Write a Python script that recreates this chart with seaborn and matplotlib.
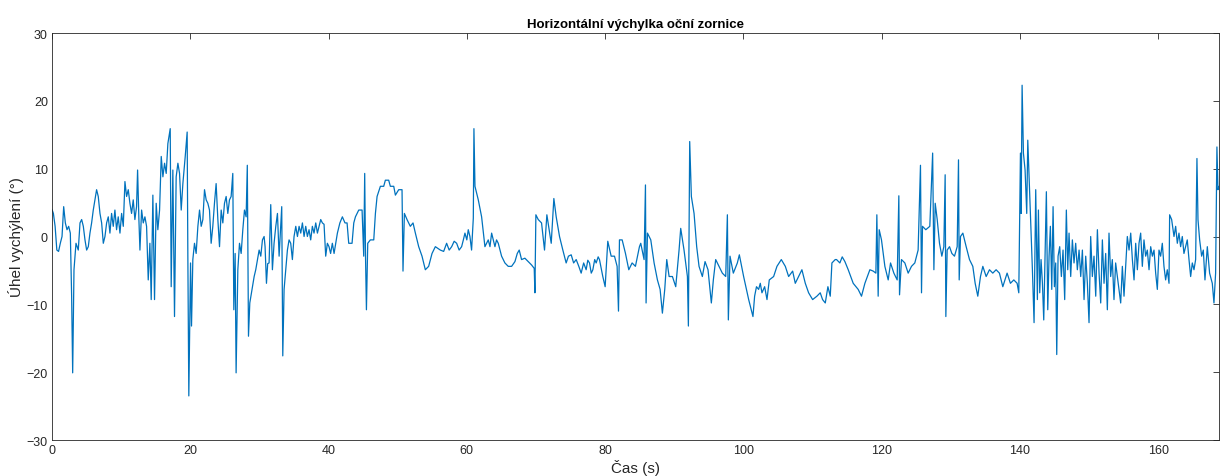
import matplotlib
matplotlib.use("Agg")
import matplotlib.pyplot as plt
import seaborn as sns
import pandas as pd

# --- data (time in s, angle in degrees) ---
t_seg1 = [0.00, 0.20, 0.45, 0.70, 0.95, 1.20, 1.45, 1.69, 1.93, 2.17, 2.41, 2.65, 2.84, 2.99, 3.18, 3.47,
          3.80, 4.05, 4.29, 4.53, 4.77, 5.01, 5.25, 5.49, 5.73, 5.97, 6.21, 6.45, 6.69, 6.94, 7.18, 7.42,
          7.66, 7.90, 8.14, 8.38, 8.62, 8.86, 9.10, 9.34, 9.58, 9.83, 10.07, 10.31, 10.55, 10.79, 11.03,
          11.27, 11.51, 11.75, 11.99, 12.23, 12.38, 12.57, 12.72, 12.96, 13.20, 13.44, 13.68, 13.92, 14.16]
v_seg1 = [4.0, 3.4, 1.5, -2.0, -2.2, -1.0, 0.0, 4.4, 2.0, 1.0, 1.5, 0.5, -8.8, -20.1, -4.9, -1.0,
          -2.0, 2.0, 2.5, 1.5, -0.5, -2.0, -1.5, 0.5, 2.0, 3.9, 5.4, 6.9, 5.9, 3.4, 2.0, -1.0,
          0.0, 2.0, 2.9, 0.5, 3.4, 1.5, 3.9, 1.0, 2.9, 0.5, 3.4, 1.5, 8.1, 5.9, 6.9,
          4.9, 3.4, 5.4, 2.5, 4.4, 9.8, 2.5, -2.0, 3.9, 2.0, 2.9, 1.5, -6.4, -1.0]

t_seg2 = [14.35, 14.59, 14.83, 15.07, 15.31, 15.56, 15.80, 16.04, 16.28, 16.52, 16.76, 17.10, 17.24, 17.48,
          17.72, 17.96, 18.21, 18.45, 18.69, 18.93, 19.27, 19.55, 19.65, 19.79, 20.04, 20.18, 20.37, 20.61,
          20.85, 21.10, 21.34, 21.58, 21.82, 22.06, 22.30, 22.54, 22.78, 23.02, 23.26, 23.50, 23.74, 23.99,
          24.23, 24.47, 24.71, 24.95, 25.19, 25.43, 25.67, 25.91, 26.15, 26.30, 26.49, 26.63, 26.88, 27.12,
          27.36, 27.60, 27.84, 28.08, 28.25]
v_seg2 = [-9.3, 6.1, -9.3, 4.9, 1.0, 3.9, 11.8, 8.8, 10.8, 9.3, 13.7, 15.9, -7.4, 9.8,
          -11.8, 8.8, 10.8, 9.3, 3.9, 7.8, 11.8, 15.4, -2.9, -23.5, -3.9, -13.2, -3.4, -1.0,
          -2.5, 1.5, 3.9, 1.5, 2.5, 6.9, 5.4, 4.9, 3.9, -1.0, 1.5, 4.9, 7.8, 2.5,
          -1.5, 3.9, 2.0, 4.9, 5.9, 3.4, 5.4, 5.9, 9.3, -10.8, -2.5, -20.1, -4.9, -1.0,
          -2.5, 1.0, 3.9, 2.9, 10.5]

t_seg3 = [28.42, 28.61, 29.00, 29.24, 29.47, 29.72, 29.96, 30.20, 30.44, 30.68, 30.82, 31.02, 31.20, 31.40,
          31.64, 31.88, 32.12, 32.37, 32.61, 32.85, 33.23, 33.38, 33.57, 34.05, 34.29, 34.53, 34.77, 35.01,
          35.26, 35.50, 35.74, 35.98, 36.22, 36.46, 36.70, 36.94, 37.18, 37.42, 37.66, 37.90, 38.15, 38.39,
          38.63, 38.87, 39.11, 39.35, 39.59, 39.83, 40.07, 40.30, 40.55, 40.80, 41.04, 41.28, 41.64, 42.00,
          42.38]
v_seg3 = [-14.7, -9.8, -7.4, -5.9, -4.9, -3.4, -2.0, -2.9, -0.5, 0.0, -1.5, -6.9, -4.0, -3.9,
          4.7, -4.9, -1.0, 1.5, 3.4, -2.9, 4.4, -17.6, -7.8, -2.0, -0.5, -1.0, -3.4, 0.0,
          1.5, 0.0, 1.5, 0.5, 2.0, 0.0, 1.5, 0.0, 1.0, -0.5, 1.5, 0.5, 2.0, 0.5,
          1.5, 2.5, 2.0, 1.8, -2.9, -1.0, -1.5, -2.5, -1.0, -2.5, -1.0, 0.5, 2.0, 2.9,
          2.0]

t_seg4 = [42.68, 42.92, 43.40, 43.65, 43.89, 44.37, 44.85, 45.09, 45.23, 45.35, 45.48, 45.67, 46.05, 46.54,
          46.78, 47.02, 47.50, 47.98, 48.22, 48.70, 48.94, 49.43, 49.67, 50.15, 50.63, 50.77, 50.97, 51.35,
          51.83, 52.22, 52.56, 53.04, 53.52, 54.00, 54.48, 54.97, 55.45, 56.17, 56.65]
v_seg4 = [2.0, -1.0, -1.0, 2.0, 2.9, 3.9, 3.9, -2.9, 9.3, -3.0, -10.8, -1.0, -0.5, -0.5,
          3.4, 5.9, 7.4, 7.4, 8.3, 8.3, 7.4, 7.4, 6.1, 6.9, 6.9, -5.1, 3.4, 2.5,
          1.5, 2.0, 0.5, -1.5, -2.9, -4.9, -4.4, -2.5, -1.5, -2.0, -2.2]

t_seg5 = [57.08, 57.45, 57.81, 58.17, 58.53, 58.89, 59.25, 59.50, 59.73, 60.00, 60.21, 60.45, 60.69, 60.94,
          61.03, 61.18, 61.66, 62.14, 62.62, 63.10, 63.35, 63.59, 64.07, 64.30, 64.55, 65.03, 65.51, 65.99,
          66.48, 66.96, 67.30, 67.58, 67.92, 68.40, 68.88, 69.37, 69.75, 69.85, 69.99, 70.33, 70.81]
v_seg5 = [-1.0, -2.0, -1.5, -0.7, -1.0, -2.0, -1.5, -0.5, 0.5, -0.5, 1.0, 0.0, -2.0, 2.7,
          15.9, 7.4, 5.4, 2.9, -1.5, -0.5, -1.5, 0.5, -1.5, -0.5, -1.0, -2.9, -3.9, -4.4,
          -4.4, -3.7, -2.5, -2.0, -3.4, -3.2, -3.7, -4.2, -4.7, -8.3, 3.2, 2.5, 2.0]

t_seg6 = [71.24, 71.58, 72.21, 72.59, 72.93, 73.41, 73.89, 74.37, 74.70, 75.10, 75.45, 75.82, 76.20, 76.54,
          76.90, 77.26, 77.50, 77.75, 78.00, 78.23, 78.50, 78.71, 79.00, 79.19, 79.67, 80.01, 80.39, 80.88,
          81.36, 81.74, 81.94, 82.08, 82.47, 82.95, 83.43, 83.91, 84.39, 84.97]
v_seg6 = [-2.0, 3.2, -1.0, 5.6, 2.9, 0.0, -2.0, -3.9, -2.9, -2.7, -3.9, -3.4, -4.4, -5.4,
          -3.9, -4.9, -3.5, -3.9, -5.4, -4.9, -3.4, -3.9, -3.0, -3.4, -5.9, -7.4, -0.7, -2.9,
          -2.9, -4.4, -11.0, -0.5, -0.5, -2.5, -4.9, -3.9, -4.4, -1.5]

t_seg7 = [85.16, 85.64, 85.84, 85.93, 86.13, 86.61, 87.09, 87.57, 87.96, 88.29, 88.63, 88.92, 89.26, 89.74,
          90.22, 90.70, 90.94, 91.42, 91.91, 92.05, 92.24, 92.48, 92.87, 93.25, 93.59, 94.07, 94.46, 94.89,
          95.37, 95.66, 96.00, 96.48, 96.96, 97.45, 97.69, 97.83, 98.07, 98.55, 99.13]
v_seg7 = [-1.0, -3.4, 7.6, -9.8, 0.5, -0.5, -3.9, -6.4, -7.8, -11.3, -7.8, -3.4, -5.9, -5.9,
          -7.4, -2.0, 1.2, -2.0, -5.9, -13.2, 14.0, 5.9, 3.4, -1.5, -4.4, -5.9, -3.7, -4.9,
          -9.8, -6.4, -3.4, -4.4, -5.4, -5.9, 3.2, -12.3, -2.9, -5.4, -3.9]

t_seg8 = [99.42, 100.04, 100.77, 101.39, 101.63, 101.90, 102.21, 102.45, 102.69, 103.08, 103.42, 103.75,
          104.38, 104.86, 105.49, 106.07, 106.55, 107.13, 107.51, 107.99, 108.47, 108.96, 109.44, 110.02,
          110.64, 111.12, 111.46, 111.85, 112.23, 112.57, 112.81, 113.29]
v_seg8 = [-2.7, -5.9, -9.3, -11.8, -8.8, -7.4, -7.8, -6.9, -8.3, -7.4, -9.3, -6.4,
          -5.9, -4.4, -3.4, -4.4, -5.9, -5.1, -6.9, -5.9, -4.9, -6.9, -8.3, -9.3,
          -8.8, -8.3, -9.3, -9.8, -7.4, -8.8, -3.9, -3.4]

t_seg9 = [113.48, 113.96, 114.30, 114.69, 115.17, 115.89, 116.61, 117.09, 117.58, 118.30, 118.78, 119.17,
          119.31, 119.50, 119.65, 119.98, 120.47, 120.95, 121.29, 121.77, 122.25, 122.49, 122.59, 122.87,
          123.36, 123.84, 124.32, 124.80, 125.28, 125.62, 125.77, 125.91, 126.39, 126.97, 127.38]
v_seg9 = [-3.4, -3.9, -3.0, -3.7, -4.9, -6.9, -7.8, -8.8, -6.9, -4.9, -5.1, -5.4,
          3.2, -8.8, 1.0, -0.5, -4.4, -6.4, -3.9, -5.4, -6.4, 6.0, -8.6, -3.4,
          -3.9, -5.4, -4.4, -3.9, -2.0, 10.5, -8.3, 1.5, 1.0, 1.5, 12.3]

t_seg10 = [127.56, 127.75, 128.04, 128.37, 128.71, 129.00, 129.19, 129.29, 129.48, 129.82, 130.16, 130.54,
           130.93, 131.12, 131.22, 131.41, 131.75, 132.23, 132.71, 133.19, 133.53, 133.91, 134.30, 134.64,
           135.12, 135.60, 136.08, 136.56, 137.04, 137.53, 138.15, 138.63, 139.12, 139.60, 139.84, 140.08,
           140.18, 140.32, 140.51, 140.75, 140.99, 141.14]
v_seg10 = [-4.9, 4.9, 2.5, -1.0, -2.9, -1.5, 9.1, -11.8, -2.0, -1.5, -2.5, -2.9,
           -1.5, 11.3, -6.4, 0.0, 0.5, -1.5, -3.4, -4.4, -6.9, -8.8, -5.9, -4.4,
           -5.9, -4.9, -5.4, -4.9, -5.4, -7.4, -5.4, -6.9, -6.4, -6.9, -8.3, 12.3,
           3.4, 22.3, 12.3, 9.8, 3.4, 14.2]

t_seg11 = [141.57, 141.81, 142.05, 142.29, 142.53, 142.68, 142.87, 143.06, 143.26, 143.45, 143.64, 143.83,
           144.03, 144.22, 144.41, 144.61, 144.80, 144.99, 145.18, 145.33, 145.52, 145.76, 146.00, 146.24,
           146.48, 146.72, 146.92, 147.11, 147.35, 147.59, 147.83, 148.07, 148.31, 148.56, 148.80, 149.04,
           149.28, 149.52, 149.76, 150.00, 150.24, 150.48, 150.72, 150.97, 151.21, 151.45, 151.69, 151.93,
           152.17, 152.41, 152.65, 152.89, 153.13, 153.37, 153.61, 153.85, 154.10]
v_seg11 = [2.0, -4.9, -12.7, 6.9, -9.3, 3.9, -8.3, -3.4, -6.9, -12.3, -2.9, 6.6,
           -10.8, -2.9, 1.5, -7.8, 4.4, -7.4, -3.9, -17.4, -2.9, -1.5, -5.9, -2.0,
           -9.3, 3.9, -4.9, 0.5, -5.9, -0.5, -3.9, -1.0, -4.9, -2.0, -5.9, -2.0,
           -9.3, -2.9, -6.9, -12.7, 0.0, -5.9, -2.9, -8.8, 1.0, -5.4, -9.8, -0.5,
           -6.9, -2.5, -10.8, 0.5, -5.9, -3.4, -9.3, -3.9, -5.9]

t_seg12 = [154.58, 154.82, 155.06, 155.30, 155.54, 155.79, 156.03, 156.27, 156.51, 156.75, 156.99, 157.23,
           157.47, 157.71, 157.95, 158.19, 158.43, 158.68, 158.92, 159.16, 159.40, 159.64, 159.88, 160.12,
           160.36, 160.60, 160.84, 161.08, 161.32, 161.57, 161.66, 161.95, 162.29, 162.53, 162.77, 163.01,
           163.25, 163.49, 163.73, 163.97, 164.21, 164.46, 164.70, 164.94, 165.18, 165.42, 165.61, 165.76,
           166.00, 166.29, 166.53, 166.77, 167.11, 167.44, 167.83, 168.07, 168.31, 168.50, 168.65, 168.79]
v_seg12 = [-9.8, -4.4, -8.8, -4.4, 0.0, -2.0, 0.5, -3.4, -6.4, -1.0, -4.9, -1.0,
           0.5, -4.4, -0.5, -2.9, -2.0, -4.9, -1.5, -2.9, -2.0, -5.4, -7.8, -2.0,
           -2.9, -1.0, -4.4, -6.4, -4.9, -6.9, 3.2, 2.5, 0.0, 1.5, -1.0, 0.5,
           -1.5, 0.0, -2.5, -1.5, -0.5, -3.4, -5.9, -3.9, -4.9, -3.4, 11.5, 2.5,
           -0.5, -2.9, -2.0, -6.4, -1.5, -5.4, -6.9, -9.8, -5.4, 13.2, 6.9, 7.4]

time_s = (t_seg1 + t_seg2 + t_seg3 + t_seg4 + t_seg5 + t_seg6 + t_seg7 + t_seg8
          + t_seg9 + t_seg10 + t_seg11 + t_seg12)
angle_deg = (v_seg1 + v_seg2 + v_seg3 + v_seg4 + v_seg5 + v_seg6 + v_seg7 + v_seg8
             + v_seg9 + v_seg10 + v_seg11 + v_seg12)

x_ticks = [0, 20, 40, 60, 80, 100, 120, 140, 160]
y_ticks = [-30, -20, -10, 0, 10, 20, 30]

title_text = "Horizontální výchylka oční zornice"
x_label = "Čas (s)"
y_label = "Úhel vychýlení (°)"

df = pd.DataFrame({"t": time_s, "v": angle_deg})

sns.set_theme(style="white")
plt.rcParams["font.family"] = ["Liberation Sans", "DejaVu Sans"]

fig = plt.figure(figsize=(12.2, 4.77), dpi=100)
ax = fig.add_axes([52 / 1220, 1 - 441 / 477, (1219 - 52) / 1220, (441 - 34) / 477])

sns.lineplot(data=df, x="t", y="v", ax=ax, color="#0072BD", linewidth=0.9,
             estimator=None, sort=False)

ax.set_xlim(0, 168.8)
ax.set_ylim(-30, 30)
ax.set_xticks(x_ticks)
ax.set_yticks(y_ticks)
ax.tick_params(axis="both", direction="in", length=4, width=0.6, colors="#262626",
               labelsize=9, top=True, right=True, labeltop=False, labelright=False, pad=3)
for s in ax.spines.values():
    s.set_visible(True)
    s.set_color("#262626")
    s.set_linewidth(0.6)

ax.set_title(title_text, fontsize=9.5, fontweight="bold", color="black", pad=4)
ax.set_xlabel(x_label, fontsize=11, color="#262626", labelpad=2)
ax.set_ylabel(y_label, fontsize=11, color="#262626", labelpad=2)

fig.savefig("out.png", dpi=100, facecolor="white")
